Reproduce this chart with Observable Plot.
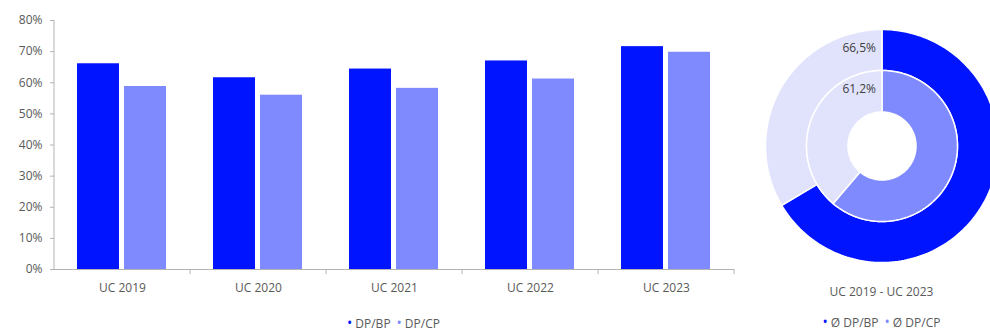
<!DOCTYPE html>
<html>
<head>
<meta charset="utf-8">
<script src="https://cdn.jsdelivr.net/npm/d3@7"></script>
<script src="https://cdn.jsdelivr.net/npm/@observablehq/plot@0.6"></script>
<style>
  html, body { margin: 0; padding: 0; overflow: hidden; background: #fff; width: 990px; height: 334px; }
  body { font-family: "Open Sans", "Noto Sans", sans-serif; color: #595959; }
  #wrap { display: flex; flex-direction: row; width: 1100px; }
  #left { width: 745px; flex: none; }
  #right { width: 273px; flex: none; }
  .legend { font-size: 12px; line-height: 14px; color: #595959; text-align: center; white-space: nowrap; }
  .legend .dot { font-size: 14px; margin-right: 3px; }
  .legend .item { margin: 0 3px; }
  #legL { margin-top: 16px; padding-left: 52px; width: 683px; }
  #capR { margin-top: 5px; font-size: 12px; line-height: 14px; text-align: center; color: #595959; }
  #legR { margin-top: 16px; }
</style>
</head>
<body>
<div id="wrap">
  <div id="left"><div id="barChart"></div><div id="legL" class="legend"></div></div>
  <div id="right"><div id="donut"></div><div id="capR"></div><div id="legR" class="legend"></div></div>
</div>
<script>
// ---- data ----
const categories = ["UC 2019", "UC 2020", "UC 2021", "UC 2022", "UC 2023"];
const seriesNames = ["DP/BP", "DP/CP"];
const dpBP = [66.1, 61.6, 64.4, 67.0, 71.6];
const dpCP = [58.8, 56.0, 58.2, 61.2, 69.8];
const yTicks = [0, 10, 20, 30, 40, 50, 60, 70, 80];
const avgNames = ["Ø DP/BP", "Ø DP/CP"];
const avgValues = [66.5, 61.2];
const avgLabels = ["66,5%", "61,2%"];
const periodLabel = "UC 2019 - UC 2023";

const colors = { "DP/BP": "#0014ff", "DP/CP": "#808aff" };
const pale = "#e1e3fc";
const font = "'Open Sans', 'Noto Sans', sans-serif";

// ---- bar chart ----
const rows = [];
categories.forEach((c, i) => {
  rows.push({ cat: c, series: seriesNames[0], value: dpBP[i] });
  rows.push({ cat: c, series: seriesNames[1], value: dpCP[i] });
});

const bar = Plot.plot({
  width: 745, height: 300,
  marginLeft: 52, marginRight: 10, marginTop: 20, marginBottom: 31,
  style: { fontFamily: font, fontSize: "12px", color: "#595959", background: "white" },
  fx: { domain: categories, padding: 0, label: null, tickSize: 0, tickPadding: 14, axis: "bottom" },
  x: { domain: seriesNames, axis: null, paddingInner: 0.104, paddingOuter: 0.47 },
  y: { domain: [0, 80], ticks: yTicks, tickFormat: d => d + "%", tickSize: 4, tickPadding: 8, label: null },
  marks: [
    Plot.barY(rows, { fx: "cat", x: "series", y: "value", fill: d => colors[d.series] }),
    Plot.ruleY([0], { stroke: "#b3b3b3" })
  ]
});
document.getElementById("barChart").append(bar);

// y axis line and category boundary ticks via the plot's scales
(function () {
  const fx = bar.scale("fx"), y = bar.scale("y");
  const svg = d3.select(bar);
  const x0 = fx.apply(categories[0]);
  svg.append("line").attr("x1", x0).attr("x2", x0)
    .attr("y1", y.apply(80)).attr("y2", y.apply(0))
    .attr("stroke", "#b3b3b3");
  const bounds = categories.map(c => fx.apply(c));
  bounds.push(fx.apply(categories[categories.length - 1]) + fx.bandwidth);
  bounds.slice(1).forEach(b => {
    svg.append("line").attr("x1", b).attr("x2", b)
      .attr("y1", y.apply(0)).attr("y2", y.apply(0) + 5)
      .attr("stroke", "#b3b3b3");
  });
  svg.selectAll("g[aria-label='y-axis tick'] path, g[aria-label='y-axis'] path").attr("stroke", "#b3b3b3");
})();

document.getElementById("legL").innerHTML = seriesNames.map(s =>
  `<span class="item"><span class="dot" style="color:${colors[s]}">•</span>${s}</span>`).join("");

// ---- donut ----
const rings = [
  { r0: 0.648, r1: 1.0 },   // outer: Ø DP/BP
  { r0: 0.292, r1: 0.648 }  // inner: Ø DP/CP
];
function sector(r0, r1, f0, f1) {
  const n = Math.max(2, Math.ceil((f1 - f0) * 240));
  const pts = [];
  for (let i = 0; i <= n; i++) {
    const t = 2 * Math.PI * (f0 + (f1 - f0) * i / n);
    pts.push({ x: r1 * Math.sin(t), y: r1 * Math.cos(t) });
  }
  for (let i = n; i >= 0; i--) {
    const t = 2 * Math.PI * (f0 + (f1 - f0) * i / n);
    pts.push({ x: r0 * Math.sin(t), y: r0 * Math.cos(t) });
  }
  return pts;
}
const donutMarks = [];
avgValues.forEach((v, i) => {
  const f = v / 100, r = rings[i];
  donutMarks.push(Plot.line(sector(r.r0, r.r1, 0, f), { x: "x", y: "y", fill: colors[seriesNames[i]], stroke: "white", strokeWidth: 1.5, curve: "linear-closed" }));
  donutMarks.push(Plot.line(sector(r.r0, r.r1, f, 1), { x: "x", y: "y", fill: pale, stroke: "white", strokeWidth: 1.5, curve: "linear-closed" }));
});
donutMarks.push(Plot.text(avgValues.map((v, i) => ({ x: 0, y: (rings[i].r0 + rings[i].r1) / 2 + 0.02, label: avgLabels[i] })),
  { x: "x", y: "y", text: "label", textAnchor: "end", dx: -6, fill: "#404040", fontSize: 12 }));

const donut = Plot.plot({
  width: 273, height: 280,
  marginLeft: 20, marginRight: 20, marginTop: 29, marginBottom: 18,
  style: { fontFamily: font, fontSize: "12px", color: "#595959", background: "white", overflow: "visible" },
  x: { domain: [-1, 1], axis: null },
  y: { domain: [-1, 1], axis: null },
  marks: donutMarks
});
document.getElementById("donut").append(donut);
document.getElementById("capR").textContent = periodLabel;
document.getElementById("legR").innerHTML = avgNames.map((s, i) =>
  `<span class="item"><span class="dot" style="color:${colors[seriesNames[i]]}">•</span>${s}</span>`).join("");
</script>
</body>
</html>
